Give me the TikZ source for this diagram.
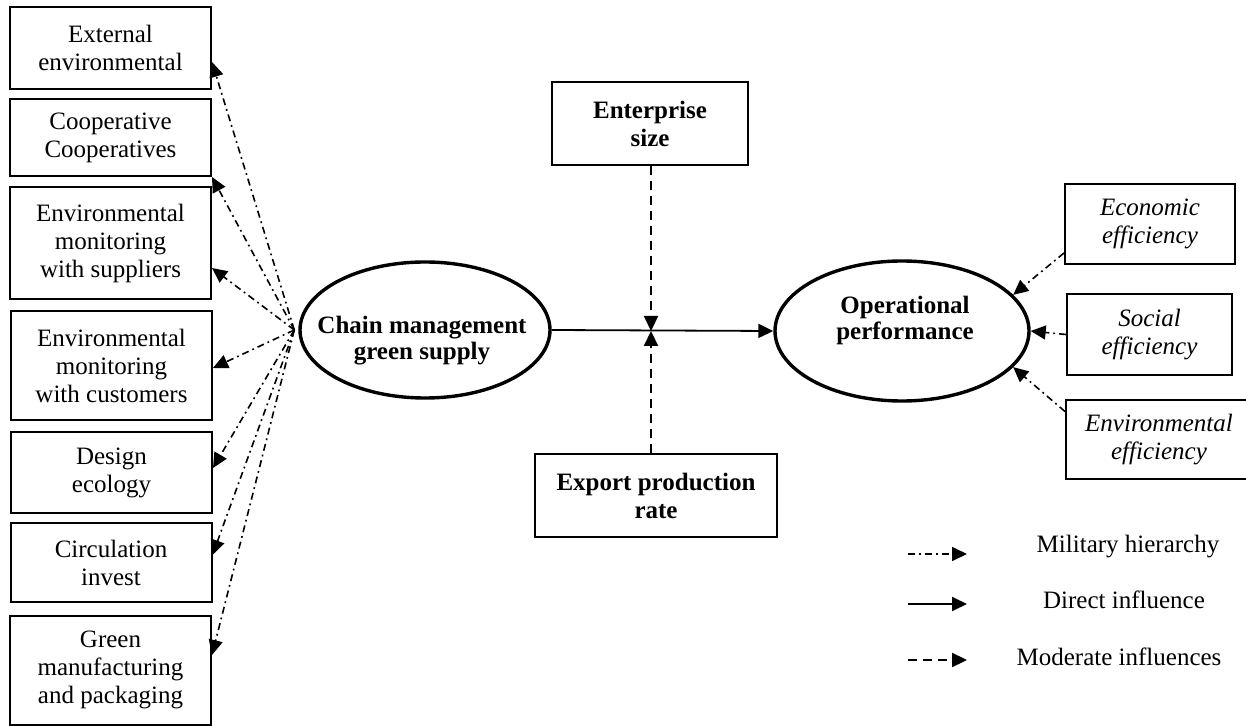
\documentclass[tikz,border=0pt]{standalone}
\usepackage{fontspec}
\setmainfont{Liberation Serif}
\usetikzlibrary{shapes,arrows.meta,positioning}

\newcommand{\diagfont}{\fontsize{12.5}{14}\selectfont}

\begin{document}
\begin{tikzpicture}[
    x=0.5pt, y=-0.5pt,
    font=\diagfont,
    factor/.style={rectangle, draw=black, line width=1pt, align=center, minimum width=100.5pt},
    moderator/.style={rectangle, draw=black, line width=1pt, align=center, font=\diagfont\bfseries},
    outcome/.style={rectangle, draw=black, line width=1pt, align=center, font=\diagfont\itshape},
    construct/.style={ellipse, draw=black, line width=1.7pt, inner sep=0pt},
    bold/.style={align=center, font=\fontsize{12.5}{13}\selectfont\bfseries},
    hier/.style={-{Triangle[length=7.5pt,width=7pt]}, line width=0.8pt, dash pattern=on 3.5pt off 2pt on 0.9pt off 2pt},
    direct/.style={-{Triangle[length=7.5pt,width=7pt]}, line width=0.9pt},
    moderate/.style={-{Triangle[length=7.5pt,width=7pt]}, line width=1.1pt, dash pattern=on 4.5pt off 3pt}
]
\useasboundingbox (0,0) rectangle (1246,726);

% Green supply chain factors
\node[factor, minimum height=41pt] (ext) at (110.5,48) {External\\environmental};
\node[factor, minimum height=38.5pt] (coop) at (110.5,137.5) {Cooperative\\Cooperatives};
\node[factor, minimum height=56pt] (supp) at (110.5,243) {Environmental\\monitoring\\with suppliers};
\node[factor, minimum height=54.5pt] (cust) at (111.5,365.5) {Environmental\\monitoring\\with customers};
\node[factor, minimum height=40.5pt] (design) at (111.5,472.5) {Design\\ecology};
\node[factor, minimum height=39.5pt] (circ) at (111,562.5) {Circulation\\invest};
\node[factor, minimum height=54.5pt] (green) at (110.5,670) {Green\\manufacturing\\and packaging};

% Constructs
\node[construct, minimum width=125pt, minimum height=68pt] (chain) at (425,330) {};
\node[bold] (chaintext) at (422,341) {Chain management\\green supply};
\node[construct, minimum width=127pt, minimum height=70pt] (perf) at (902,331) {};
\node[bold] (perftext) at (905,320) {Operational\\performance};

% Moderators
\node[moderator, minimum width=98pt, minimum height=41.5pt] (size) at (650,123.5) {Enterprise\\size};
\node[moderator, minimum width=121pt, minimum height=41.5pt] (export) at (656,495.5) {Export production\\rate};

% Performance dimensions
\node[outcome, minimum width=85pt, minimum height=40pt] (econ) at (1150,224) {Economic\\efficiency};
\node[outcome, minimum width=82.5pt, minimum height=40.5pt] (social) at (1149.5,334.5) {Social\\efficiency};
\node[outcome, minimum width=93pt, minimum height=39.5pt] (envir) at (1159,439.5) {Environmental\\efficiency};

% Hierarchy edges
\coordinate (fan) at ([xshift=-2pt]chain.west);
\draw[hier] (fan) -- ([yshift=-7pt]ext.east);
\draw[hier] (fan) -- (coop.south east);
\draw[hier] (fan) -- ([yshift=-12.5pt]supp.east);
\draw[hier] (fan) -- ([yshift=-1.25pt]cust.east);
\draw[hier] (fan) -- ([yshift=2.25pt]design.east);
\draw[hier] (fan) -- ([yshift=3.75pt]circ.east);
\draw[hier] (fan) -- ([yshift=7.5pt]green.east);

\draw[hier] ([yshift=-14.5pt]econ.west) -- (perf.18);
\draw[hier] (social.west) -- (perf.east);
\draw[hier] ([yshift=14pt]envir.west) -- (perf.-18);

% Direct and moderating effects
\draw[direct] (chain.east) -- (perf.west);
\coordinate (junction) at (651,331);
\draw[moderate] (size.south -| junction) -- (junction);
\draw[moderate] (export.north -| junction) -- (junction);

% Legend
\coordinate (leg1s) at (908,554);
\coordinate (leg1e) at (967,554);
\coordinate (leg2s) at (908,604);
\coordinate (leg2e) at (967,604);
\coordinate (leg3s) at (908,660);
\coordinate (leg3e) at (967,660);
\draw[hier] (leg1s) -- (leg1e);
\draw[direct] (leg2s) -- (leg2e);
\draw[moderate] (leg3s) -- (leg3e);
\node (leg1) at (1128,547) {Military hierarchy};
\node (leg2) at (1124,600) {Direct influence};
\node (leg3) at (1119,657) {Moderate influences};

\end{tikzpicture}
\end{document}
